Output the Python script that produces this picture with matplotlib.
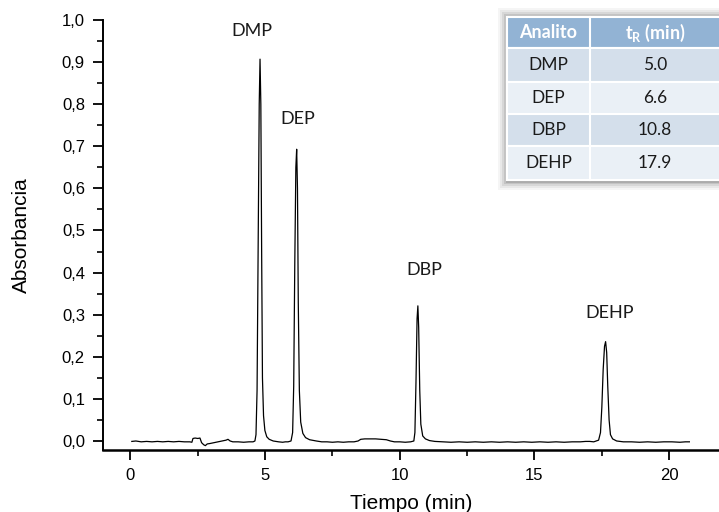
import numpy as np
import matplotlib.pyplot as plt
from matplotlib.patches import Rectangle
from matplotlib.ticker import MultipleLocator, FuncFormatter

# cromatograma: tiempo (min) y absorbancia
tiempo = [0.05, 0.2, 0.4, 0.6, 0.8, 1.0, 1.2, 1.4, 1.6, 1.8, 2.0, 2.2, 2.28,
          2.32, 2.40, 2.50, 2.58, 2.64, 2.72, 2.78, 2.85, 2.95, 3.1, 3.25, 3.4,
          3.55, 3.62, 3.7, 3.8, 4.0, 4.2, 4.4,
          4.55, 4.62, 4.66, 4.70, 4.74, 4.78, 4.81, 4.84, 4.87, 4.90, 4.94,
          4.99, 5.06, 5.15, 5.3, 5.5, 5.65, 5.75,
          5.85, 5.96, 6.02, 6.06, 6.10, 6.14, 6.17, 6.20, 6.23, 6.27, 6.32,
          6.40, 6.50, 6.65, 6.9, 7.1, 7.3, 7.5, 7.7, 7.9, 8.1, 8.3, 8.45,
          8.55, 8.7, 8.9, 9.1, 9.3, 9.5, 9.65, 9.8, 10.0, 10.2,
          10.4, 10.52, 10.56, 10.60, 10.64, 10.67, 10.70, 10.74, 10.78, 10.85,
          10.95, 11.1, 11.3, 11.6, 11.9, 12.2, 12.5, 12.8, 13.1, 13.4, 13.7,
          14.0, 14.3, 14.6, 14.9, 15.2, 15.5, 15.8, 16.1, 16.4, 16.7, 16.9,
          17.05, 17.2, 17.38, 17.45, 17.50, 17.55, 17.60, 17.64, 17.68, 17.72,
          17.77, 17.82, 17.9, 18.05, 18.3, 18.6, 18.9, 19.2, 19.5, 19.8,
          20.1, 20.4, 20.6, 20.75]
absorbancia = [-0.001, 0.000, -0.002, -0.001, -0.002, -0.001, -0.002, -0.001,
               -0.002, -0.001, -0.002, -0.002, -0.003,
               0.006, 0.007, 0.006, 0.007, -0.004, -0.009, -0.011, -0.007,
               -0.006, -0.004, -0.002, 0.000,
               0.002, 0.004, 0.000, -0.002, -0.002, -0.003, -0.002,
               -0.002, 0.000, 0.015, 0.12, 0.45, 0.80, 0.907, 0.80, 0.45,
               0.15, 0.06,
               0.025, 0.010, 0.004, 0.000, -0.002, -0.003, -0.002,
               -0.002, 0.000, 0.02, 0.13, 0.42, 0.65, 0.693, 0.60, 0.33, 0.12,
               0.045,
               0.018, 0.008, 0.003, 0.000, -0.002, -0.002, -0.003, -0.002,
               -0.003, -0.002, -0.002, 0.000,
               0.004, 0.005, 0.005, 0.005, 0.004, 0.003, 0.000, -0.002, -0.002,
               -0.003,
               -0.002, 0.000, 0.02, 0.14, 0.29, 0.321, 0.27, 0.12, 0.04, 0.012,
               0.005, 0.001, -0.001, -0.002, -0.003, -0.002, -0.003, -0.002,
               -0.003, -0.002, -0.003,
               -0.002, -0.003, -0.002, -0.003, -0.002, -0.003, -0.002, -0.003,
               -0.002, -0.002, -0.001,
               -0.001, -0.002, 0.002, 0.02, 0.08, 0.17, 0.225, 0.236, 0.21,
               0.13,
               0.05, 0.015, 0.005, 0.000, -0.002, -0.002, -0.003, -0.002,
               -0.003, -0.002,
               -0.002, -0.003, -0.002, -0.002]

# etiquetas de los picos
picos = ["DMP", "DEP", "DBP", "DEHP"]
pico_t = [4.5, 6.2, 10.9, 17.8]
pico_a = [0.975, 0.764, 0.406, 0.304]

# tabla de tiempos de retencion
analitos = ["DMP", "DEP", "DBP", "DEHP"]
t_ret = ["5.0", "6.6", "10.8", "17.9"]

W, H = 719, 512
fig = plt.figure(figsize=(W / 100, H / 100), dpi=100)
ax = fig.add_axes([103 / W, 62 / H, (W - 103) / W, 430 / H])

ax.plot(tiempo, absorbancia, color="black", lw=0.9)
ax.set_xlim(-1.02, 21.85)
ax.set_ylim(-0.0214, 1.0)

for s in ["top", "right"]:
    ax.spines[s].set_visible(False)
ax.spines["left"].set_linewidth(1.4)
ax.spines["bottom"].set_linewidth(1.8)

ax.xaxis.set_major_locator(MultipleLocator(5))
ax.xaxis.set_minor_locator(MultipleLocator(2.5))
ax.yaxis.set_major_locator(MultipleLocator(0.1))
ax.yaxis.set_minor_locator(MultipleLocator(0.05))
ax.yaxis.set_major_formatter(FuncFormatter(lambda v, p: f"{v:.1f}".replace(".", ",")))
ax.tick_params(which="major", direction="out", length=7, width=1.3,
               labelsize=12, colors="black", pad=6)
ax.tick_params(which="minor", direction="out", length=4, width=1.2)
for lab in ax.get_xticklabels() + ax.get_yticklabels():
    lab.set_family("Liberation Sans")

ax.set_xlabel("Tiempo (min)", fontsize=15, family="Liberation Sans", labelpad=8)
ax.set_ylabel("Absorbancia", fontsize=15, family="Liberation Sans", labelpad=22)

for nombre, t, a in zip(picos, pico_t, pico_a):
    ax.text(t, a, nombre, fontsize=13, family="Lato", color="#1a1a1a",
            ha="center", va="center")

# tabla (en pixeles de la figura, y desde arriba)
tx0, tx1, tcol = 507, 722, 590
filas = [17, 48, 82, 114, 146, 180]
tab = fig.add_axes([0, 0, 1, 1], zorder=5)
tab.set_xlim(0, W)
tab.set_ylim(H, 0)
tab.axis("off")

# sombra
for k, al in zip([9, 7, 5, 3, 1.5], [0.04, 0.05, 0.07, 0.09, 0.12]):
    tab.add_patch(Rectangle((tx0 - k, filas[0] - k), tx1 - tx0 + 2 * k,
                            filas[-1] - filas[0] + 2 * k + 1,
                            color="black", alpha=al, lw=0))

colores = ["#92b3d4", "#d4dfeb", "#eaf0f6", "#d4dfeb", "#eaf0f6"]
for i in range(5):
    tab.add_patch(Rectangle((tx0, filas[i]), tx1 - tx0, filas[i + 1] - filas[i],
                            facecolor=colores[i], edgecolor="white", lw=1.5))
tab.plot([tcol, tcol], [filas[0], filas[-1]], color="white", lw=1.5)

c1 = (tx0 + tcol) / 2
c2 = 655
tab.text(c1, (filas[0] + filas[1]) / 2, "Analito", color="white",
         fontsize=13, weight="bold", family="Lato", ha="center", va="center")
tab.text(c2, (filas[0] + filas[1]) / 2, r"t$_{\mathregular{R}}$ (min)", color="white",
         fontsize=13, weight="bold", family="Lato", ha="center", va="center")
for i, (n, t) in enumerate(zip(analitos, t_ret)):
    yc = (filas[i + 1] + filas[i + 2]) / 2
    tab.text(c1, yc, n, fontsize=12.5, family="Lato", color="#1a1a1a",
             ha="center", va="center")
    tab.text(c2, yc, t, fontsize=12.5, family="Lato", color="#1a1a1a",
             ha="center", va="center")

fig.savefig("out.png", dpi=100)
